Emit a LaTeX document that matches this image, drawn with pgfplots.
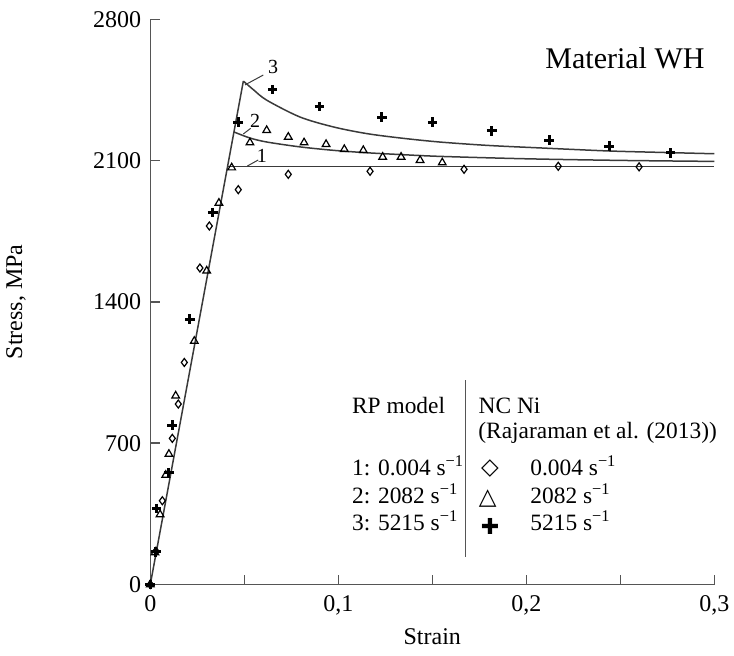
\documentclass[border=0pt]{standalone}
\usepackage{pgfplots}
\pgfplotsset{compat=1.18}
\usepackage{fontspec}
\setmainfont{Liberation Serif}
\newfontfamily\symfont{DejaVu Sans}
\definecolor{ln}{HTML}{3A3A3A}
\definecolor{ax}{HTML}{555555}
\begin{document}
\fontsize{11.7}{13.7}\selectfont
\begin{tikzpicture}
\begin{axis}[
  at={(0pt,0pt)}, anchor=south west,
  scale only axis, width=282pt, height=282.6pt,
  xmin=0, xmax=0.3, ymin=0, ymax=2800,
  clip=false,
  axis lines=left,
  axis line style={-, line width=0.75pt, color=ax},
  tick align=inside, major tick length=5pt,
  tick style={color=ax, line width=0.75pt},
  xtick={0,0.1,0.2,0.3}, ytick={0,700,1400,2100,2800},
  extra x ticks={0.05,0.15,0.25}, extra x tick labels={},
  extra x tick style={major tick length=5pt},
  /pgf/number format/use comma,
  /pgf/number format/1000 sep={},
  /pgf/number format/assume math mode=true,
  ticklabel style={font=\fontsize{12}{14}\selectfont},
  xticklabel style={yshift=-1.5pt},
  yticklabel style={xshift=-0.5pt},
  label style={font=\fontsize{12}{14}\selectfont},
  xlabel={Strain}, ylabel={Stress, MPa},
  xlabel style={at={(axis description cs:0.5,-0.092)}, anchor=center},
  ylabel style={at={(axis description cs:-0.2381,0.5)}, anchor=center, rotate=0},
]
% RP model curves
\addplot[ln, line width=0.75pt] coordinates {(0,0) (0.0495,2494)};
\addplot[ln, line width=0.75pt] coordinates {(0.0411,2072) (0.3,2072)};
\addplot[ln, line width=0.75pt, smooth, tension=0.5] coordinates {
 (0.0445,2242) (0.053,2212) (0.062,2192) (0.0796,2168) (0.0973,2151)
 (0.115,2139) (0.133,2130) (0.154,2121) (0.2,2109) (0.25,2101) (0.3,2096)};
\addplot[ln, line width=0.75pt, smooth, tension=0.5] coordinates {
 (0.0495,2494) (0.055,2450) (0.062,2399) (0.0796,2316) (0.0973,2267)
 (0.115,2234) (0.133,2212) (0.154,2192) (0.18,2175) (0.207,2163)
 (0.243,2148) (0.27,2141) (0.3,2134)};
% data: 0.004 s^-1
\addplot[only marks, mark=diamond, mark size=2pt, mark options={black, line width=0.6pt, fill=white}] coordinates {
 (0,0) (0.003,165) (0.0064,415) (0.0117,724) (0.0149,894) (0.0181,1100)
 (0.0264,1568) (0.0314,1776) (0.0468,1956) (0.0734,2032) (0.1169,2047)
 (0.1669,2057) (0.217,2072) (0.260,2069)};
% data: 2082 s^-1
\addplot[only marks, mark=triangle, mark size=2.2pt, mark options={black, line width=0.6pt, fill=white}] coordinates {
 (0,0) (0.0025,158) (0.0052,347) (0.0082,542) (0.0099,646) (0.0135,935)
 (0.0234,1206) (0.030,1554) (0.0365,1890) (0.0433,2065) (0.053,2189)
 (0.0619,2250) (0.0734,2217) (0.0818,2189) (0.0935,2181) (0.1032,2156)
 (0.1133,2151) (0.1236,2118) (0.1334,2118) (0.1435,2102) (0.1553,2090)};
% data: 5215 s^-1
\addplot[only marks, mark=+, mark size=2.4pt, mark options={black, line width=1.5pt}] coordinates {
 (0,0) (0.003,162) (0.0034,377) (0.0099,554) (0.0117,790) (0.0211,1314)
 (0.0332,1843) (0.0468,2291) (0.0651,2452) (0.0899,2369) (0.1232,2316)
 (0.1502,2291) (0.1816,2247) (0.2121,2201) (0.244,2171) (0.2768,2138)};
% curve labels
\draw[ln, line width=0.5pt] (axis cs:0.0504,2475) -- (axis cs:0.0601,2524);
\draw[ln, line width=0.5pt] (axis cs:0.0495,2232) -- (axis cs:0.0534,2260);
\draw[ln, line width=0.5pt] (axis cs:0.0516,2073) -- (axis cs:0.0574,2103);
\node[font=\fontsize{10}{12}\selectfont, inner sep=0] at (axis cs:0.0654,2562) {3};
\node[font=\fontsize{10}{12}\selectfont, inner sep=0] at (axis cs:0.0557,2298) {2};
\node[font=\fontsize{10}{12}\selectfont, inner sep=0] at (axis cs:0.0593,2124) {1};
\node[font=\fontsize{15}{17}\selectfont, inner sep=0] at (axis cs:0.2525,2608) {Material WH};
\end{axis}
% legend
\draw[ax, line width=0.6pt] (157.7pt,102.25pt) -- (157.7pt,13.9pt);
\node[anchor=base west, inner sep=0] at (100.7pt,85.6pt) {RP model};
\node[anchor=base west, inner sep=0] at (164pt,85.6pt) {NC Ni};
\node[anchor=base west, inner sep=0] at (163.85pt,73.1pt) {(Rajaraman et al. (2013))};
\node[anchor=base west, inner sep=0] at (100.7pt,54.75pt) {1: 0.004 s\textsuperscript{−1}};
\node[anchor=base west, inner sep=0] at (100.7pt,40.6pt) {2: 2082 s\textsuperscript{−1}};
\node[anchor=base west, inner sep=0] at (100.7pt,27.25pt) {3: 5215 s\textsuperscript{−1}};
\node[inner sep=0, font=\symfont\fontsize{11.5}{13}\selectfont] at (169.85pt,58.1pt) {◇};
\node[inner sep=0, font=\symfont\fontsize{11.5}{13}\selectfont] at (168.7pt,43.1pt) {△};
\node[inner sep=0, font=\symfont\fontsize{11}{13}\selectfont] at (169.85pt,28.9pt) {✚};
\node[anchor=base west, inner sep=0] at (189.85pt,54.75pt) {0.004 s\textsuperscript{−1}};
\node[anchor=base west, inner sep=0] at (189.85pt,40.6pt) {2082 s\textsuperscript{−1}};
\node[anchor=base west, inner sep=0] at (189.85pt,27.25pt) {5215 s\textsuperscript{−1}};
\pgfresetboundingbox
\path[use as bounding box] (-75.15pt,-35.25pt) rectangle (291.85pt,292.25pt);
\end{tikzpicture}
\end{document}
